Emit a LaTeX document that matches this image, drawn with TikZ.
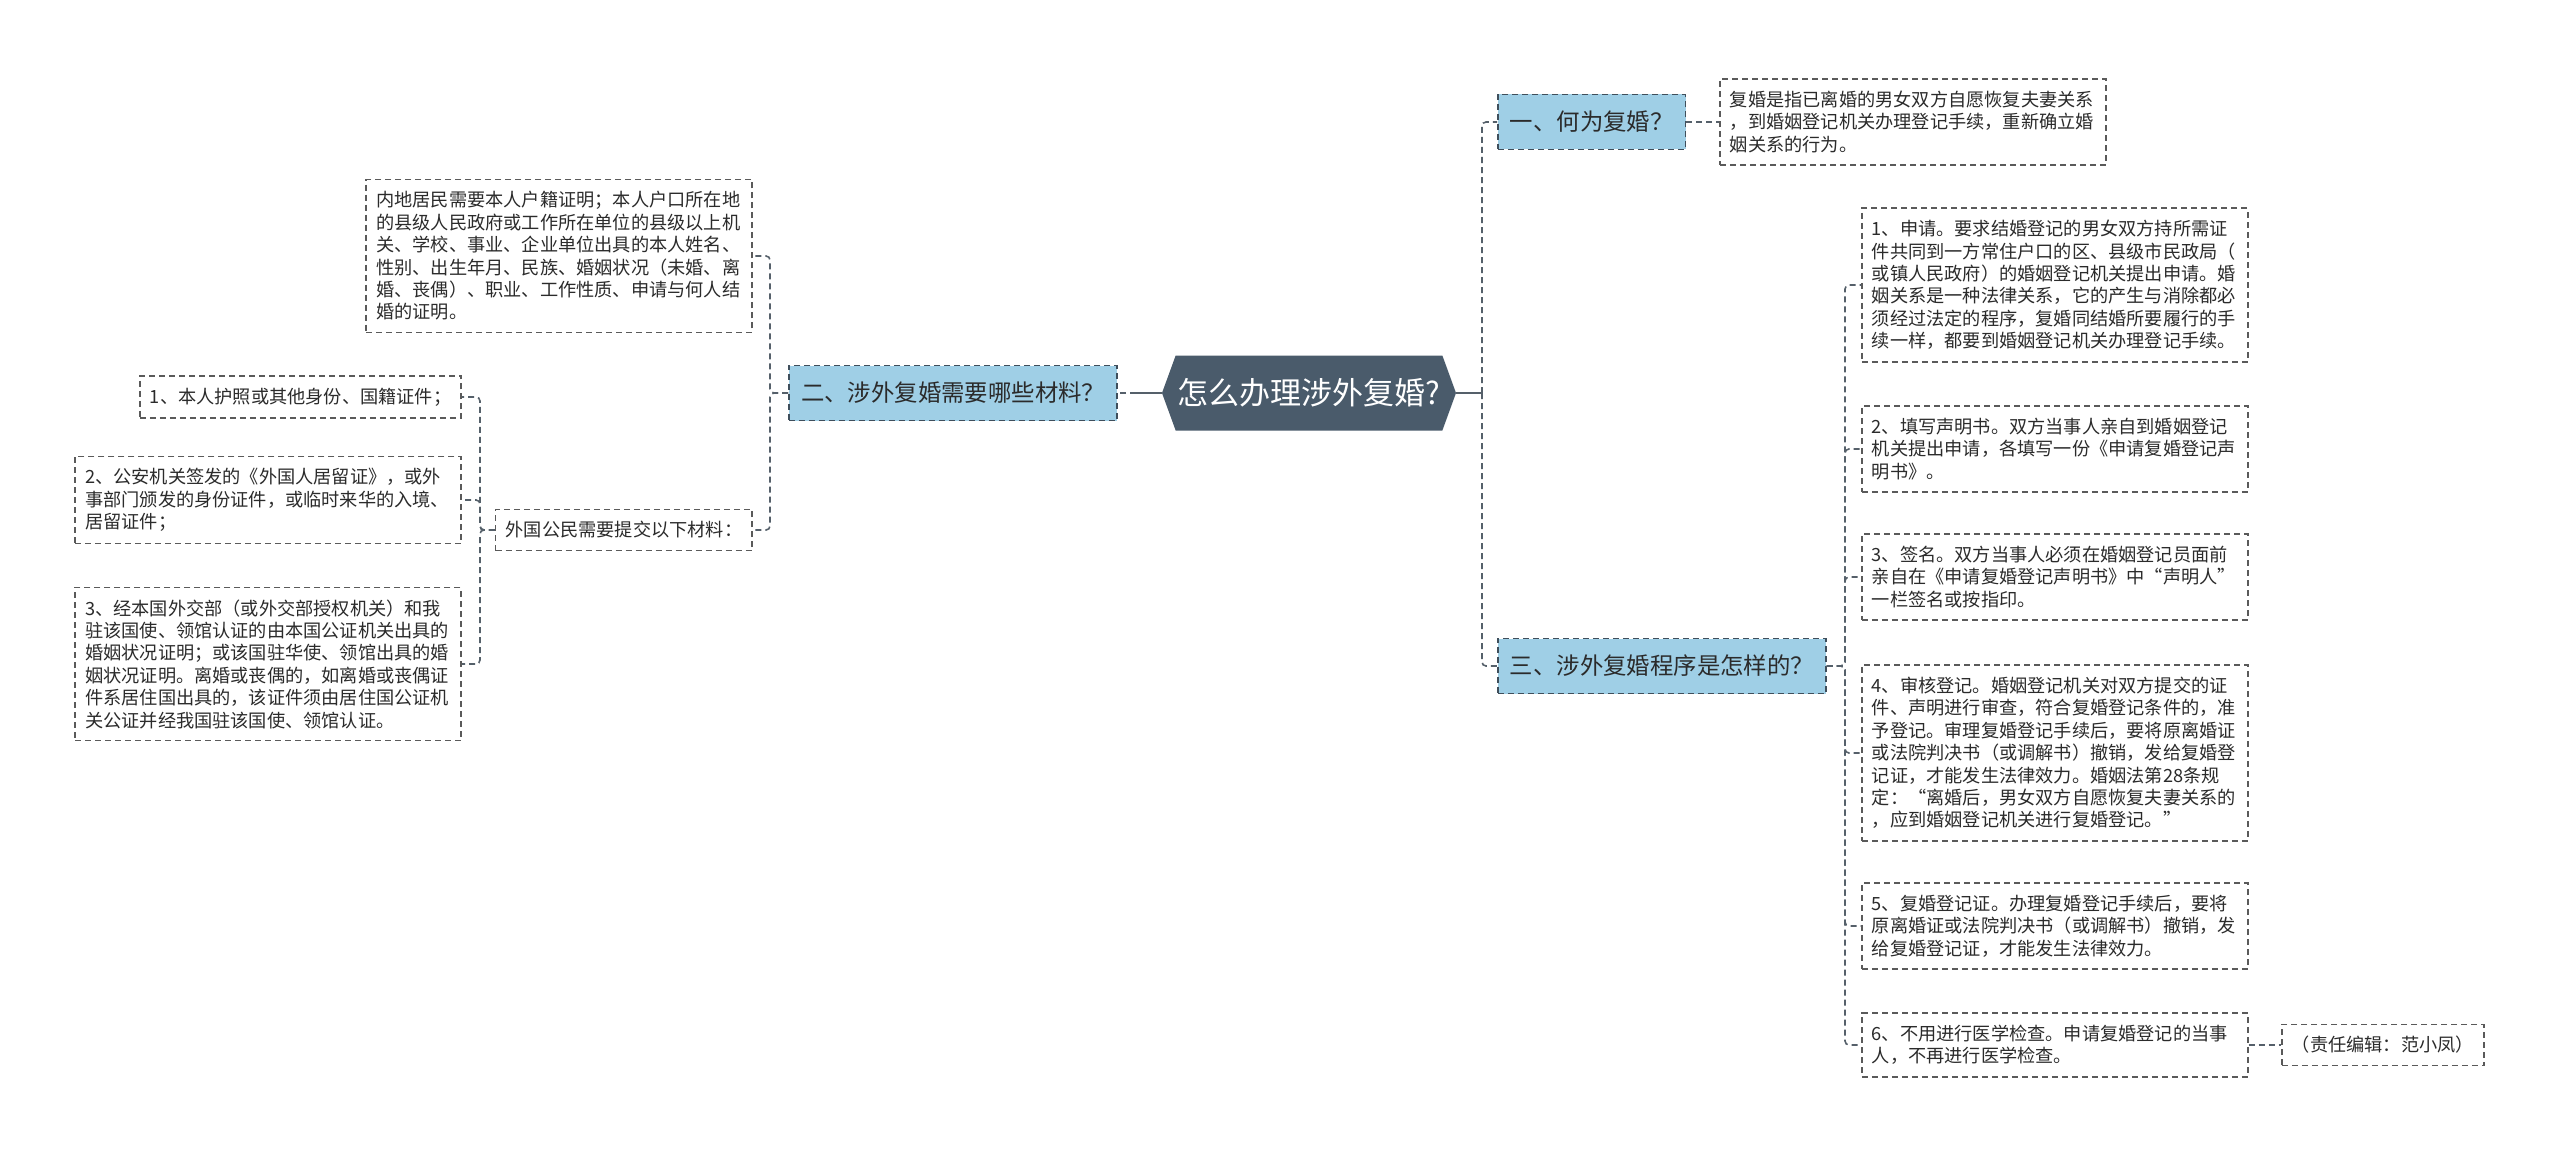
\documentclass[tikz,border=0pt]{standalone}
\usepackage{fontspec}
\setmainfont{Noto Sans CJK SC}
\usepackage{xcolor}
\usepackage{tikz}
\usetikzlibrary{shapes.symbols}
\definecolor{RootFill}{HTML}{4A5B6B}
\definecolor{BranchFill}{HTML}{9FCFE6}
\definecolor{BranchLine}{HTML}{3F4E5B}
\definecolor{LeafLine}{HTML}{5A5A5A}
\definecolor{LinkGray}{HTML}{55606A}
\definecolor{TextGray}{HTML}{2B2B2B}

\begin{document}
\begin{tikzpicture}[x=0.5pt, y=-0.5pt,
  rootnode/.style={signal, signal to=west and east, signal pointer angle=140,
    fill=RootFill, text=white, font=\fontsize{15.5pt}{18pt}\selectfont,
    inner xsep=1pt, minimum height=37.5pt},
  branchnode/.style={draw=BranchLine, fill=BranchFill, dash pattern=on 3pt off 2pt,
    line width=0.8pt, text=TextGray, font=\fontsize{11.7pt}{14pt}\selectfont,
    inner xsep=6pt, minimum height=27.5pt},
  leafnode/.style={draw=LeafLine, dash pattern=on 3pt off 2pt, line width=0.8pt,
    text=TextGray, align=left, font=\fontsize{9.1pt}{11.2pt}\selectfont,
    inner xsep=5pt, inner ysep=6pt},
  wideleaf/.style={leafnode, text width=183pt},
  link/.style={draw=LinkGray, line width=0.8pt, dash pattern=on 3pt off 2pt, rounded corners=2pt},
  stub/.style={draw=LinkGray, line width=1pt}]

\fill[white] (0,0) rectangle (2560,1156);
\useasboundingbox (0,0) rectangle (2560,1156);

% centre and main branches
\node[rootnode] (root) at (1309,393) {怎么办理涉外复婚?};
\node[branchnode, anchor=west] (b1) at (1497,122) {一、何为复婚？};
\node[branchnode, anchor=east] (b2) at (1118,393) {二、涉外复婚需要哪些材料？};
\node[branchnode, anchor=west] (b3) at (1497,666) {三、涉外复婚程序是怎样的？};

% branch one
\node[wideleaf, anchor=west] (def) at (1719,122) {复婚是指已离婚的男女双方自愿恢复夫妻关系\\，到婚姻登记机关办理登记手续，重新确立婚\\姻关系的行为。};

% branch two
\node[wideleaf, anchor=east] (mainland) at (753,256) {内地居民需要本人户籍证明；本人户口所在地\\的县级人民政府或工作所在单位的县级以上机\\关、学校、事业、企业单位出具的本人姓名、\\性别、出生年月、民族、婚姻状况（未婚、离\\婚、丧偶）、职业、工作性质、申请与何人结\\婚的证明。};
\node[leafnode, anchor=east] (foreign) at (753,530) {外国公民需要提交以下材料：};
\node[leafnode, anchor=east] (doc1) at (462,397) {1、本人护照或其他身份、国籍证件；};
\node[wideleaf, anchor=east] (doc2) at (462,500) {2、公安机关签发的《外国人居留证》，或外\\事部门颁发的身份证件，或临时来华的入境、\\居留证件；};
\node[wideleaf, anchor=east] (doc3) at (462,664) {3、经本国外交部（或外交部授权机关）和我\\驻该国使、领馆认证的由本国公证机关出具的\\婚姻状况证明；或该国驻华使、领馆出具的婚\\姻状况证明。离婚或丧偶的，如离婚或丧偶证\\件系居住国出具的，该证件须由居住国公证机\\关公证并经我国驻该国使、领馆认证。};

% branch three
\node[wideleaf, anchor=west] (step1) at (1861,285) {1、申请。要求结婚登记的男女双方持所需证\\件共同到一方常住户口的区、县级市民政局（\\或镇人民政府）的婚姻登记机关提出申请。婚\\姻关系是一种法律关系，它的产生与消除都必\\须经过法定的程序，复婚同结婚所要履行的手\\续一样，都要到婚姻登记机关办理登记手续。};
\node[wideleaf, anchor=west] (step2) at (1861,449) {2、填写声明书。双方当事人亲自到婚姻登记\\机关提出申请，各填写一份《申请复婚登记声\\明书》。};
\node[wideleaf, anchor=west] (step3) at (1861,577) {3、签名。双方当事人必须在婚姻登记员面前\\亲自在《申请复婚登记声明书》中“声明人”\\一栏签名或按指印。};
\node[wideleaf, anchor=west] (step4) at (1861,753) {4、审核登记。婚姻登记机关对双方提交的证\\件、声明进行审查，符合复婚登记条件的，准\\予登记。审理复婚登记手续后，要将原离婚证\\或法院判决书（或调解书）撤销，发给复婚登\\记证，才能发生法律效力。婚姻法第28条规\\定：“离婚后，男女双方自愿恢复夫妻关系的\\，应到婚姻登记机关进行复婚登记。”};
\node[wideleaf, anchor=west] (step5) at (1861,926) {5、复婚登记证。办理复婚登记手续后，要将\\原离婚证或法院判决书（或调解书）撤销，发\\给复婚登记证，才能发生法律效力。};
\node[wideleaf, anchor=west] (step6) at (1861,1045) {6、不用进行医学检查。申请复婚登记的当事\\人，不再进行医学检查。};
\node[leafnode, anchor=west] (editor) at (2281,1045) {（责任编辑：范小凤）};

% connectors
\coordinate (rbus) at (1482,393);
\coordinate (lbus) at (1136,393);
\coordinate (b2bus) at (770,393);
\coordinate (fbus) at (480,530);
\coordinate (b3bus) at (1845,666);

\draw[stub] (root.east) -- (rbus);
\draw[link] (rbus) |- (b1.west);
\draw[link] (rbus) |- (b3.west);
\draw[stub] (root.west) -- (lbus);
\draw[link] (lbus) -- (b2.east);
\draw[link] (b1.east) -- (def.west);
\foreach \kid in {mainland,foreign}
  \draw[link] (b2.west) -- (b2bus) |- (\kid.east);
\foreach \kid in {doc1,doc2,doc3}
  \draw[link] (foreign.west) -- (fbus) |- (\kid.east);
\foreach \kid in {step1,step2,step3,step4,step5,step6}
  \draw[link] (b3.east) -- (b3bus) |- (\kid.west);
\draw[link] (step6.east) -- (editor.west);
\end{tikzpicture}
\end{document}
